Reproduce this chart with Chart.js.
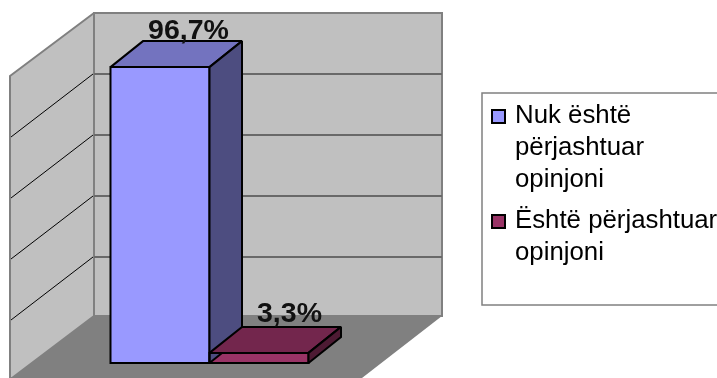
<!DOCTYPE html>
<html>
<head>
<meta charset="utf-8">
<title>Opinjoni</title>
<script src="https://cdn.jsdelivr.net/npm/chart.js@4"></script>
<style>
    html, body { margin: 0; padding: 0; background: #fff; }
    canvas { display: block; }
</style>
</head>
<body>
<canvas id="opinionChart" width="717" height="378"></canvas>
<script>
const categories = [''];
const seriesNames = [
    ['Nuk është', 'përjashtuar', 'opinjoni'],
    ['Është përjashtuar', 'opinjoni']
];
const seriesValues = [[96.7], [3.3]];
const seriesFront = ['#9999ff', '#993366'];
const seriesTop = ['#7373bf', '#73264d'];
const seriesSide = ['#4d4d80', '#4d1a33'];

const FONT = '"Liberation Sans", Arial, sans-serif';
const DEPTH_X = 32.5, DEPTH_Y = 26;   // bar depth
const WALL = { left: 10, right: 94, end: 442, top: 13, base: 316, gridBase: 318, drop: 62 };
const LABEL_SHIFT = [28.5, 30.5];
const LABEL_LIFT = [28, 31];

function poly(ctx, pts, fill, stroke, lw) {
    ctx.beginPath();
    pts.forEach((p, i) => i ? ctx.lineTo(p[0], p[1]) : ctx.moveTo(p[0], p[1]));
    ctx.closePath();
    if (fill) { ctx.fillStyle = fill; ctx.fill(); }
    if (stroke) {
        ctx.strokeStyle = stroke;
        ctx.lineWidth = lw;
        ctx.lineJoin = 'miter';
        ctx.miterLimit = 2;
        ctx.stroke();
    }
}

// Walls and floor, gridlines follow the y axis ticks
const wallsPlugin = {
    id: 'walls',
    beforeDatasetsDraw(chart) {
        const { ctx, scales: { y } } = chart;
        const w = WALL;
        const k = (w.gridBase - w.top) / (y.getPixelForValue(0) - y.getPixelForValue(y.max));
        const backY = v => w.gridBase - (y.getPixelForValue(0) - y.getPixelForValue(v)) * k;

        ctx.save();
        poly(ctx, [[w.right, w.base], [w.end, w.base], [w.end - 80, 378], [w.left, 378]], '#808080');
        poly(ctx, [[w.right, w.top], [w.end, w.top], [w.end, w.base], [w.right, w.base]], '#c0c0c0', '#808080', 2);
        poly(ctx, [[w.left, w.top + w.drop + 1], [w.right, w.top], [w.right, w.base], [w.left + 2, 378], [w.left, 378]], '#c0c0c0', '#808080', 2);

        y.ticks.forEach(t => {
            if (t.value === 0 || t.value === y.max) return;
            const py = Math.round(backY(t.value));
            ctx.strokeStyle = '#696969';
            ctx.lineWidth = 2;
            ctx.beginPath();
            ctx.moveTo(w.right, py);
            ctx.lineTo(w.end, py);
            ctx.stroke();
            ctx.strokeStyle = '#000';
            ctx.lineWidth = 1;
            ctx.beginPath();
            ctx.moveTo(w.right - 1, py);
            ctx.lineTo(w.left + 1, py + w.drop + 1);
            ctx.stroke();
        });
        ctx.restore();
    }
};

// Outlines, top and side faces of each bar, value labels, legend box
const depthPlugin = {
    id: 'depth',
    afterDatasetsDraw(chart) {
        const { ctx } = chart;
        ctx.save();
        seriesValues.forEach((vals, i) => {
            const bar = chart.getDatasetMeta(i).data[0];
            const l = bar.x - bar.width / 2, r = bar.x + bar.width / 2;
            poly(ctx, [[l, bar.y], [r, bar.y], [r, bar.base], [l, bar.base]], null, '#000', 2);
            poly(ctx, [[l, bar.y], [r, bar.y], [r + DEPTH_X, bar.y - DEPTH_Y], [l + DEPTH_X, bar.y - DEPTH_Y]], seriesTop[i], '#000', 2);
            poly(ctx, [[r, bar.y], [r + DEPTH_X, bar.y - DEPTH_Y], [r + DEPTH_X, bar.base - DEPTH_Y], [r, bar.base]], seriesSide[i], '#000', 2);
        });
        ctx.restore();
    },
    afterDraw(chart) {
        const { ctx } = chart;
        ctx.save();

        ctx.fillStyle = '#111';
        ctx.font = 'bold 28.5px ' + FONT;
        ctx.textAlign = 'center';
        ctx.textBaseline = 'alphabetic';
        seriesValues.forEach((vals, i) => {
            const bar = chart.getDatasetMeta(i).data[0];
            ctx.fillText(vals[0].toFixed(1).replace('.', ',') + '%', bar.x + LABEL_SHIFT[i], bar.y - LABEL_LIFT[i]);
        });

        // legend
        ctx.strokeStyle = '#808080';
        ctx.lineWidth = 1.5;
        ctx.strokeRect(482, 93, 240, 212);
        ctx.textAlign = 'left';
        ctx.font = '25.8px ' + FONT;
        let base = 123;
        seriesNames.forEach((lines, i) => {
            ctx.fillStyle = seriesFront[i];
            ctx.fillRect(492, base - 13, 13, 13);
            ctx.strokeStyle = '#000';
            ctx.lineWidth = 2;
            ctx.strokeRect(492, base - 13, 13, 13);
            ctx.fillStyle = '#000';
            lines.forEach((line, n) => ctx.fillText(line, 515, base + n * 32));
            base += lines.length * 32 + 9;
        });
        ctx.restore();
    }
};

new Chart(document.getElementById('opinionChart'), {
    type: 'bar',
    data: {
        labels: categories,
        datasets: seriesValues.map((vals, i) => ({
            label: seriesNames[i].join(' '),
            data: vals,
            backgroundColor: seriesFront[i],
            borderWidth: 0,
            barPercentage: 1,
            categoryPercentage: 0.569
        }))
    },
    options: {
        responsive: false,
        animation: false,
        layout: { padding: { left: 35.5, right: 333.5, top: 57, bottom: 15 } },
        plugins: { legend: { display: false }, tooltip: { enabled: false } },
        scales: {
            x: { display: false },
            y: { display: false, min: 0, max: 100, ticks: { stepSize: 20 } }
        }
    },
    plugins: [wallsPlugin, depthPlugin]
});
</script>
</body>
</html>
